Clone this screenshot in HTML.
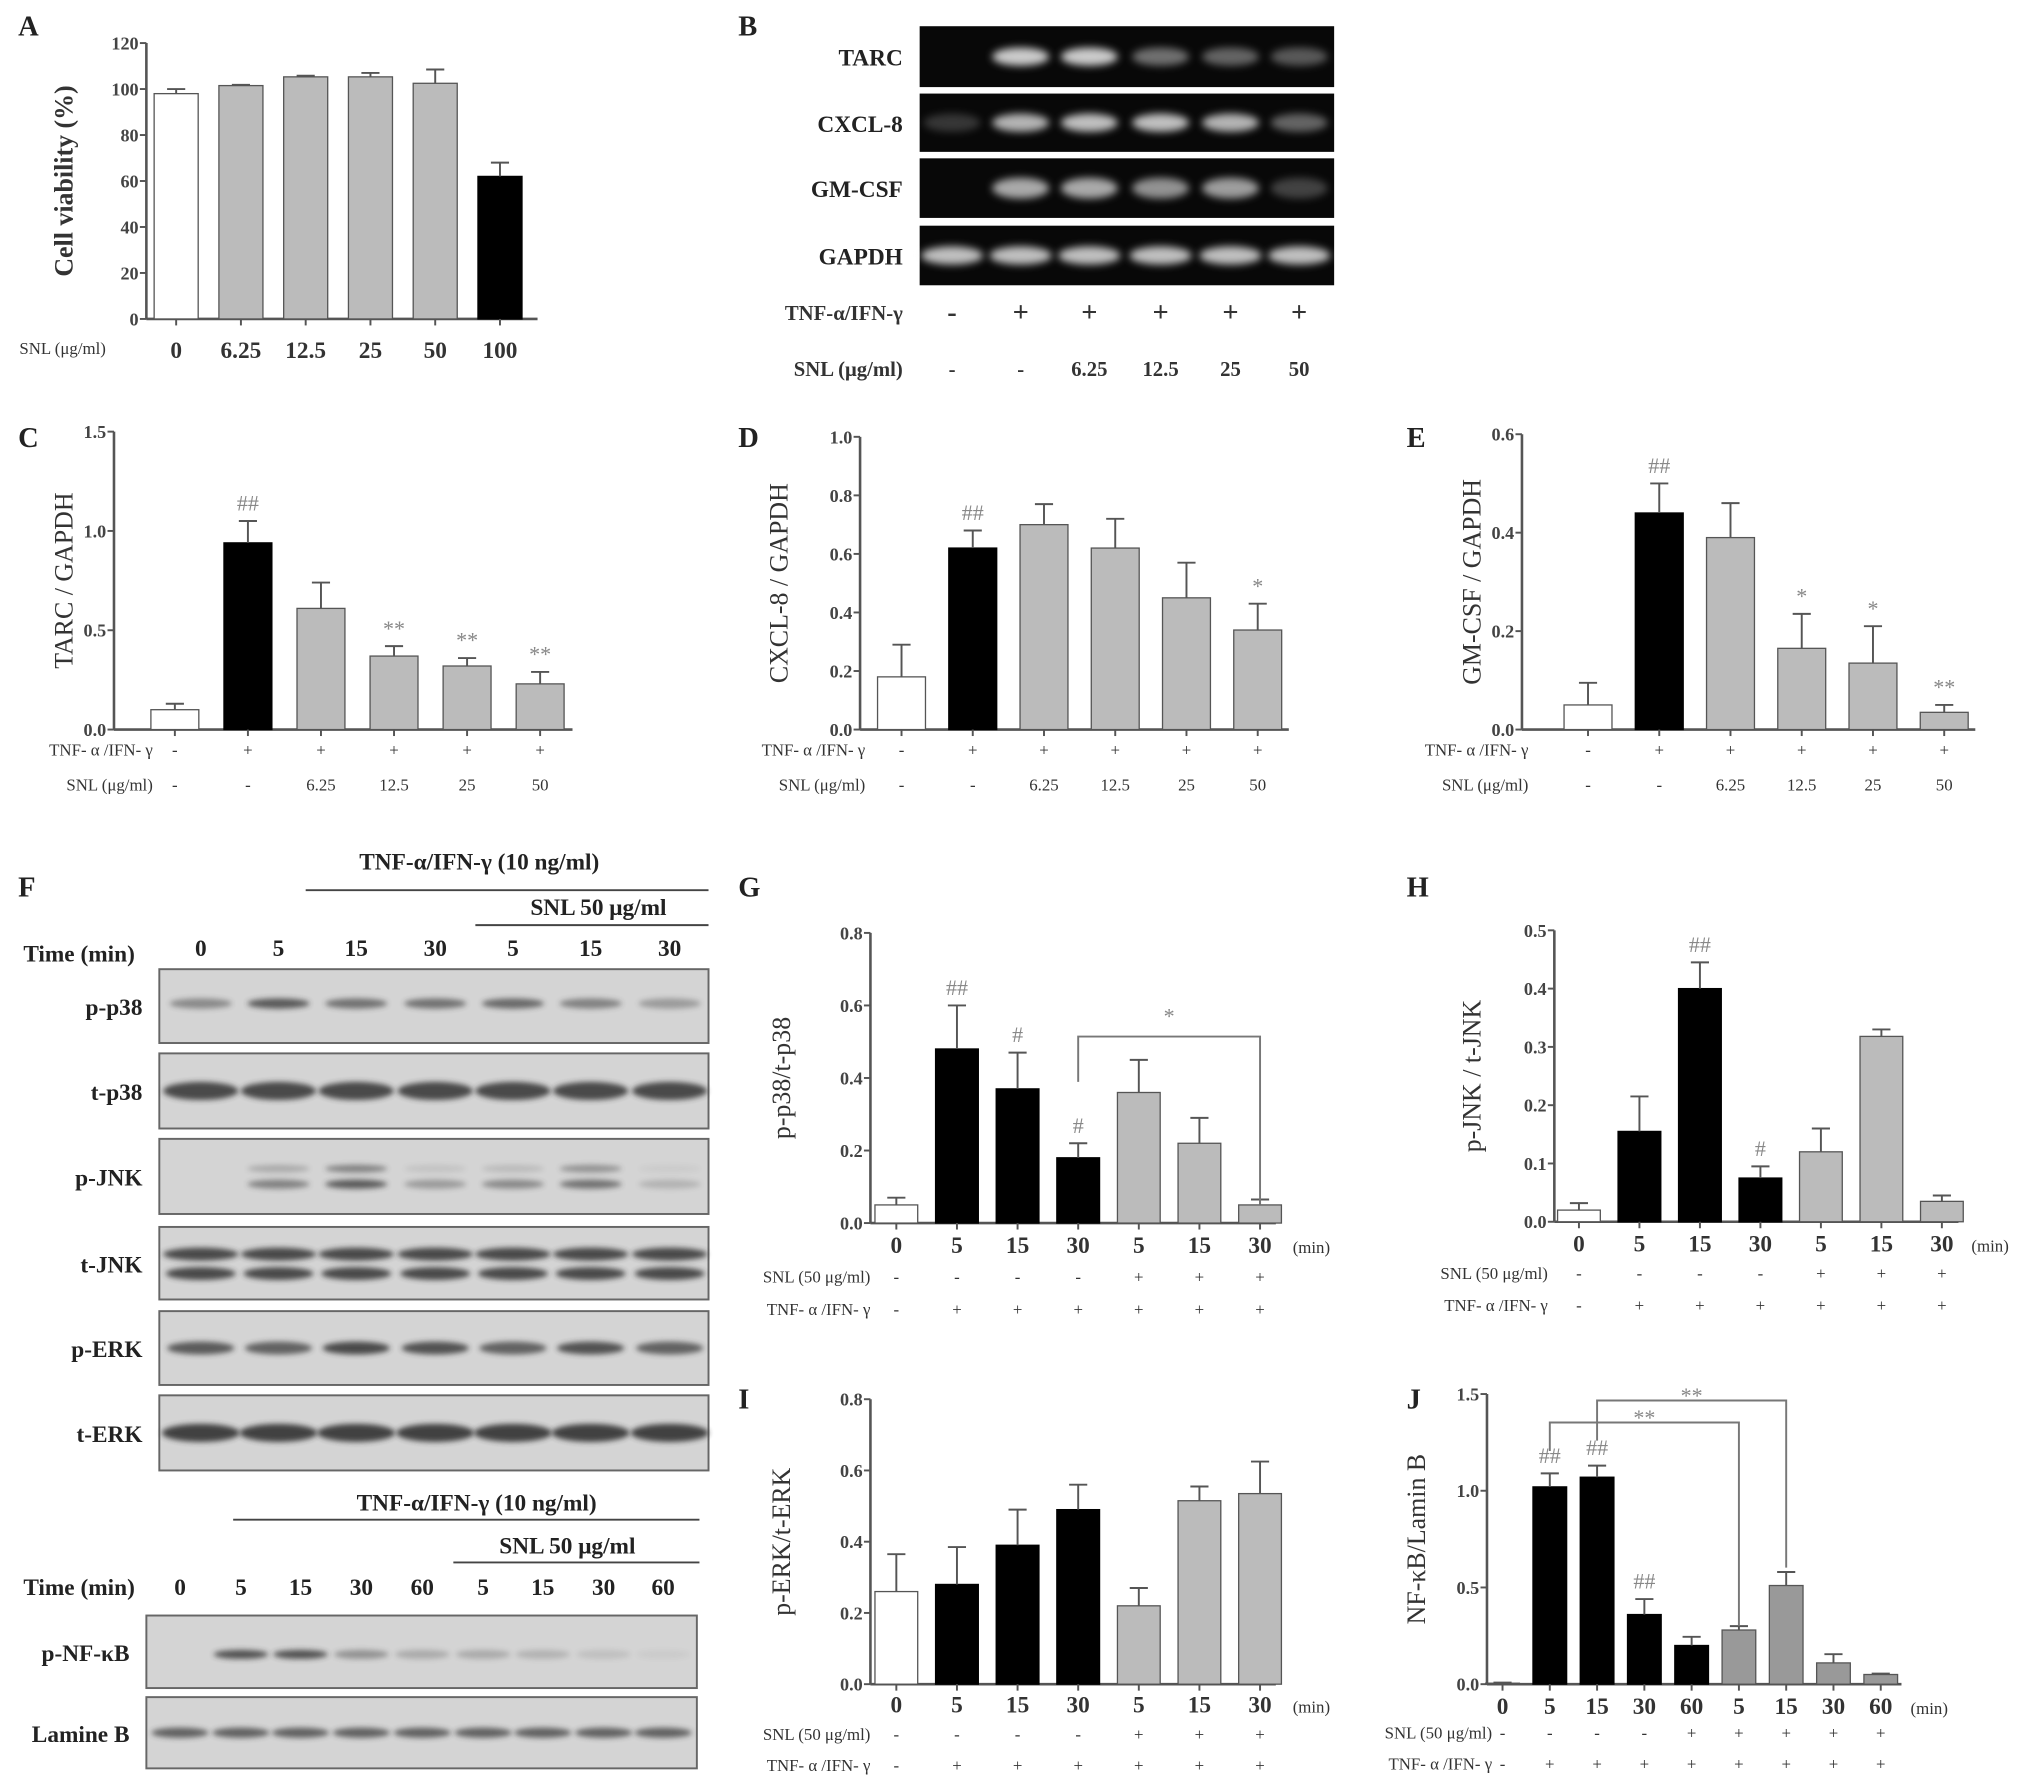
<!DOCTYPE html>
<html><head><meta charset="utf-8"><style>
html,body{margin:0;padding:0;background:#fff;}
svg{display:block;font-family:"Liberation Serif",serif;}
.lbl{font-weight:bold;font-size:22px;fill:#222;}
.tick{font-size:14px;fill:#444;font-weight:bold;}
.xt{font-size:18px;fill:#333;font-weight:bold;}
.row{font-size:13px;fill:#333;}
.ttl{font-size:20px;fill:#333;}
.bl{font-size:18px;fill:#222;font-weight:bold;}
.ann{font-size:17px;fill:#888;}
</style></head><body>
<svg id="fig" width="2031" height="1792" viewBox="0 0 1568 1383" xmlns="http://www.w3.org/2000/svg">
<defs>
<filter id="blur" x="-30%" y="-80%" width="160%" height="260%"><feGaussianBlur stdDeviation="3"/></filter>
<filter id="blur2" x="-30%" y="-80%" width="160%" height="260%"><feGaussianBlur stdDeviation="2"/></filter>
</defs>
<g id="root"></g>
</svg>
<script>
// ---- Panel A data ----
const aCats=["0","6.25","12.5","25","50","100"];
const aVals=[98,101.5,105.3,105.3,102.5,62];
const aErrs=[100,101.8,105.8,107,108.5,68];
const aTicks=[0,20,40,60,80,100,120];
// ---- Panel C data ----
const cVals=[0.10,0.94,0.61,0.37,0.32,0.23];
const cErrs=[0.13,1.05,0.74,0.42,0.36,0.29];
const cTicks=["0.0","0.5","1.0","1.5"];
const cAnn=["","##","","**","**","**"];
// ---- Panel D data ----
const dVals=[0.18,0.62,0.70,0.62,0.45,0.34];
const dErrs=[0.29,0.68,0.77,0.72,0.57,0.43];
const dTicks=["0.0","0.2","0.4","0.6","0.8","1.0"];
const dAnn=["","##","","","","*"];
// ---- Panel E data ----
const eVals=[0.05,0.44,0.39,0.165,0.135,0.035];
const eErrs=[0.095,0.50,0.46,0.235,0.21,0.05];
const eTicks=["0.0","0.2","0.4","0.6"];
const eAnn=["","##","","*","*","**"];
const doseTNF=["-","+","+","+","+","+"];
const doseSNL=["-","-","6.25","12.5","25","50"];
// ---- Panel G data ----
const timeCats7=["0","5","15","30","5","15","30"];
const gVals=[0.05,0.48,0.37,0.18,0.36,0.22,0.05];
const gErrs=[0.07,0.60,0.47,0.22,0.45,0.29,0.065];
const gTicks=["0.0","0.2","0.4","0.6","0.8"];
const gAnn=["","##","#","#","","",""];
// ---- Panel H data ----
const hVals=[0.02,0.155,0.40,0.075,0.12,0.318,0.035];
const hErrs=[0.032,0.215,0.445,0.095,0.16,0.33,0.045];
const hTicks=["0.0","0.1","0.2","0.3","0.4","0.5"];
const hAnn=["","","##","#","","",""];
// ---- Panel I data ----
const iVals=[0.26,0.28,0.39,0.49,0.22,0.515,0.535];
const iErrs=[0.365,0.385,0.49,0.56,0.27,0.555,0.625];
const iTicks=["0.0","0.2","0.4","0.6","0.8"];
const snl7=["-","-","-","-","+","+","+"];
const tnf7=["-","+","+","+","+","+","+"];
// ---- Panel J data ----
const timeCats9=["0","5","15","30","60","5","15","30","60"];
const jVals=[0.005,1.02,1.07,0.36,0.20,0.28,0.51,0.11,0.05];
const jErrs=[0.008,1.09,1.13,0.44,0.245,0.30,0.58,0.155,0.055];
const jTicks=["0.0","0.5","1.0","1.5"];
const jAnn=["","##","##","##","","","","",""];
const snl9=["-","-","-","-","+","+","+","+","+"];
const tnf9=["-","+","+","+","+","+","+","+","+"];
// ---- Blot intensities ----
const gelTARC=[0,0.85,0.85,0.45,0.4,0.35];
const gelCXCL=[0.2,0.75,0.8,0.8,0.75,0.4];
const gelGM=[0,0.7,0.7,0.6,0.65,0.25];
const gelGAPDH=[0.8,0.8,0.8,0.8,0.8,0.8];
const wbPp38=[0.45,0.75,0.6,0.6,0.65,0.5,0.35];
const wbPJNKhi=[0,0.25,0.5,0.1,0.15,0.4,0.05];
const wbPJNKlo=[0,0.5,0.75,0.35,0.45,0.6,0.2];
const wbPERK=[0.75,0.7,0.85,0.8,0.7,0.8,0.7];
const wbNFkB=[0,0.8,0.8,0.4,0.25,0.25,0.2,0.12,0.05];
const wbLamin=[0.7,0.7,0.7,0.7,0.7,0.7,0.7,0.7,0.7];

const NS="http://www.w3.org/2000/svg";
const root=document.getElementById('root');
function el(tag,attrs,parent,text){const e=document.createElementNS(NS,tag);for(const k in attrs)e.setAttribute(k,attrs[k]);if(text!==undefined)e.textContent=text;(parent||root).appendChild(e);return e;}
function txt(x,y,s,cls,anchor,parent,name){const t=el('text',{x:x,y:y,class:cls,'text-anchor':anchor||'middle'},parent,s);return t;}

function chart(o){
  const g=el('g',{});
  
  
  const ys=v=>o.y0-(v/o.max)*(o.y0-o.yTop);
  const xs=i=>o.c0+i*o.step;
  el('line',{x1:o.ax,y1:o.yTop,x2:o.ax,y2:o.y0,stroke:'#555','stroke-width':2},g);
  el('line',{x1:o.ax,y1:o.y0,x2:o.xEnd,y2:o.y0,stroke:'#555','stroke-width':2},g);
  o.ticks.forEach((t,k)=>{const v=parseFloat(t);const y=ys(v);
    el('line',{x1:o.ax-5,y1:y,x2:o.ax,y2:y,stroke:'#555','stroke-width':1.5},g);
    txt(o.ax-6,y+5,t,'tick','end',g,'y-tick-label');});
  o.vals.forEach((v,i)=>{const x=xs(i);const w=o.w;
    const col=o.colors[i];
    const r=el('rect',{x:x-w/2,y:ys(v),width:w,height:o.y0-ys(v),fill:col,stroke:col=='#000'?'#000':'#555','stroke-width':1},g);
    
    
    const ye=ys(o.errs[i]);
    el('line',{x1:x,y1:ys(v),x2:x,y2:ye,stroke:'#555','stroke-width':1.5},g);
    el('line',{x1:x-7,y1:ye,x2:x+7,y2:ye,stroke:'#555','stroke-width':1.5},g);
    el('line',{x1:x,y1:o.y0,x2:x,y2:o.y0+5,stroke:'#555','stroke-width':1.5},g);
    if(o.ann&&o.ann[i])txt(x,ye-8,o.ann[i],'ann','middle',g,'significance-mark');
  });
  if(o.cats)o.cats.forEach((c,i)=>txt(xs(i),o.catY,c,o.catCls||'xt','middle',g,'x-tick-label'));
  if(o.rows)o.rows.forEach(rw=>{txt(o.rowLabelX,rw.y,rw.label,'row','end',g,'row-label');
    rw.vals.forEach((c,i)=>txt(xs(i),rw.y,c,'row','middle',g,'row-value'));});
  if(o.title){const t=txt(0,0,o.title,'ttl','middle',g,'y-axis-title');t.setAttribute('transform','translate('+o.titleX+','+((o.yTop+o.y0)/2)+') rotate(-90)');if(o.titleBold)t.setAttribute('font-weight','bold');}
  if(o.min)txt(o.minX,o.catY,'(min)','row','start',g,'unit-label');
  return {g,xs,ys};
}

[["A",14,27],["B",570,27],["C",14,345],["D",570,345],["E",1086,345],["F",14,692],["G",570,692],["H",1086,692],["I",570,1087],["J",1086,1087]].forEach(p=>txt(p[1],p[2],p[0],'lbl','start',null,'panel-label-'+p[0].toLowerCase()));

const W='#fff',K='#000',Gy='#bbb',Gd='#999';
chart({name:'chart-a',ax:113,y0:246,yTop:33,max:120,ticks:aTicks.map(String),vals:aVals,errs:aErrs,c0:136,step:50,w:34,xEnd:415,
  colors:[W,Gy,Gy,Gy,Gy,K],cats:aCats,catY:276,title:'Cell viability (%)',titleX:56,titleBold:true});
txt(15,273,'SNL (μg/ml)','row','start',null,'x-axis-title');
const doseRows=(y1,y2)=>[{y:y1,label:'TNF- α /IFN- γ',vals:doseTNF},{y:y2,label:'SNL (μg/ml)',vals:doseSNL}];
chart({name:'chart-c',ax:88,y0:563,yTop:333,max:1.5,ticks:cTicks,vals:cVals,errs:cErrs,c0:135,step:56.4,w:37,xEnd:442,
  colors:[W,K,Gy,Gy,Gy,Gy],ann:cAnn,rows:doseRows(583,610),rowLabelX:118,title:'TARC / GAPDH',titleX:56});
chart({name:'chart-d',ax:664,y0:563,yTop:337,max:1.0,ticks:dTicks,vals:dVals,errs:dErrs,c0:696,step:55,w:37,xEnd:995,
  colors:[W,K,Gy,Gy,Gy,Gy],ann:dAnn,rows:doseRows(583,610),rowLabelX:668,title:'CXCL-8 / GAPDH',titleX:608});
chart({name:'chart-e',ax:1175,y0:563,yTop:335,max:0.6,ticks:eTicks,vals:eVals,errs:eErrs,c0:1226,step:55,w:37,xEnd:1525,
  colors:[W,K,Gy,Gy,Gy,Gy],ann:eAnn,rows:doseRows(583,610),rowLabelX:1180,title:'GM-CSF / GAPDH',titleX:1143});
const tRows=(y1,y2,a,b)=>[{y:y1,label:'SNL (50 μg/ml)',vals:a},{y:y2,label:'TNF- α /IFN- γ',vals:b}];
const G=chart({name:'chart-g',ax:672,y0:944,yTop:720,max:0.8,ticks:gTicks,vals:gVals,errs:gErrs,c0:692,step:46.8,w:33,xEnd:985,
  colors:[W,K,K,K,Gy,Gy,Gy],ann:gAnn,cats:timeCats7,catY:967,min:true,minX:998,rows:tRows(990,1015,snl7,tnf7),rowLabelX:672,title:'p-p38/t-p38',titleX:610});
(function(){const x1=G.xs(3),x2=G.xs(6);const b=el('path',{d:`M${x1},835 V800 H${x2} V930`,fill:'none',stroke:'#777','stroke-width':1.5},G.g);txt((x1+x2)/2,790,'*','ann','middle',G.g,'significance-mark');})();
chart({name:'chart-h',ax:1200,y0:943,yTop:718,max:0.5,ticks:hTicks,vals:hVals,errs:hErrs,c0:1219,step:46.7,w:33,xEnd:1512,
  colors:[W,K,K,K,Gy,Gy,Gy],ann:hAnn,cats:timeCats7,catY:966,min:true,minX:1522,rows:tRows(987,1012,snl7,tnf7),rowLabelX:1195,title:'p-JNK / t-JNK',titleX:1143});
chart({name:'chart-i',ax:672,y0:1300,yTop:1080,max:0.8,ticks:iTicks,vals:iVals,errs:iErrs,c0:692,step:46.8,w:33,xEnd:985,
  colors:[W,K,K,K,Gy,Gy,Gy],cats:timeCats7,catY:1322,min:true,minX:998,rows:tRows(1343,1367,snl7,tnf7),rowLabelX:672,title:'p-ERK/t-ERK',titleX:610});
const J=chart({name:'chart-j',ax:1148,y0:1300,yTop:1076,max:1.5,ticks:jTicks,vals:jVals,errs:jErrs,c0:1160,step:36.5,w:26,xEnd:1468,
  colors:[W,K,K,K,K,Gd,Gd,Gd,Gd],ann:jAnn,cats:timeCats9,catY:1323,min:true,minX:1475,rows:tRows(1342,1366,snl9,tnf9),rowLabelX:1152,title:'NF-κB/Lamin B',titleX:1100});
(function(){const b1=el('path',{d:`M${J.xs(2)},1112 V1081 H${J.xs(6)} V1210`,fill:'none',stroke:'#777','stroke-width':1.5},J.g);
const b2=el('path',{d:`M${J.xs(1)},1120 V1098 H${J.xs(5)} V1255`,fill:'none',stroke:'#777','stroke-width':1.5},J.g);
txt((J.xs(2)+J.xs(6))/2,1083,'**','ann','middle',J.g,'significance-mark');txt((J.xs(1)+J.xs(5))/2,1100,'**','ann','middle',J.g,'significance-mark');})();

const gelLanes=[735,788,841,896,950,1003];
function gel(name,label,y1,y2,vals,bw,bh){const g=el('g',{});
  el('rect',{x:710,y:y1,width:320,height:y2-y1,fill:'#080808'},g);
  vals.forEach((v,i)=>{if(v>0)el('ellipse',{cx:gelLanes[i],cy:(y1+y2)/2,rx:bw,ry:bh,fill:'#eee',opacity:v,filter:'url(#blur)'},g);});
  txt(697,(y1+y2)/2+7,label,'bl','end',g,'gel-label');}
gel('gel-tarc','TARC',20,67,gelTARC,22,7);
gel('gel-cxcl8','CXCL-8',72,117,gelCXCL,22,7);
gel('gel-gmcsf','GM-CSF',122,168,gelGM,22,8);
gel('gel-gapdh','GAPDH',174,220,gelGAPDH,24,7);
txt(697,247,'TNF-α/IFN-γ','row','end',null,'row-label').setAttribute('style','font-size:16px;font-weight:bold');
txt(697,290,'SNL (μg/ml)','row','end',null,'row-label').setAttribute('style','font-size:16px;font-weight:bold');
doseTNF.forEach((c,i)=>txt(gelLanes[i],248,c,'xt','middle',null,'row-value').setAttribute('style','font-size:22px'));
doseSNL.forEach((c,i)=>txt(gelLanes[i],290,c,'row','middle',null,'row-value').setAttribute('style','font-size:16px;font-weight:bold'));

const fLanes=[155,215,275,336,396,456,517];
function blot(name,label,x1,x2,y1,y2,lanes,vals,bw,bh,dy,labelX){const g=el('g',{});
  el('rect',{x:x1,y:y1,width:x2-x1,height:y2-y1,fill:'#d4d4d4',stroke:'#666','stroke-width':1.5},g);
  vals.forEach((v,i)=>{if(v>0)el('ellipse',{cx:lanes[i],cy:(y1+y2)/2+(dy||0),rx:bw,ry:bh,fill:'#333',opacity:v,filter:'url(#blur2)'},g);});
  txt(labelX,(y1+y2)/2+7,label,'bl','end',g,'blot-label');return g;}
blot('blot-p-p38','p-p38',123,547,748,805,fLanes,wbPp38,24,4,-2,110);
blot('blot-t-p38','t-p38',123,547,813,871,fLanes,[.85,.85,.85,.85,.85,.85,.85],29,7,0,110);
const pj=blot('blot-p-jnk','p-JNK',123,547,879,937,fLanes,wbPJNKhi,24,3,-6,110);
wbPJNKlo.forEach((v,i)=>{if(v>0)el('ellipse',{cx:fLanes[i],cy:914,rx:24,ry:3.5,fill:'#333',opacity:v,filter:'url(#blur2)'},pj);});
const tj=blot('blot-t-jnk','t-JNK',123,547,947,1003,fLanes,[.85,.85,.85,.85,.85,.85,.85],29,5,-7,110);
[.85,.85,.85,.85,.85,.85,.85].forEach((v,i)=>el('ellipse',{cx:fLanes[i],cy:983,rx:27,ry:5,fill:'#333',opacity:v,filter:'url(#blur2)'},tj));
blot('blot-p-erk','p-ERK',123,547,1012,1069,fLanes,wbPERK,26,5,0,110);
blot('blot-t-erk','t-ERK',123,547,1077,1135,fLanes,[.9,.9,.9,.9,.9,.9,.9],30,7,0,110);
txt(370,671,'TNF-α/IFN-γ  (10 ng/ml)','bl','middle',null,'treatment-header');
el('line',{x1:236,y1:687,x2:547,y2:687,stroke:'#444','stroke-width':1.5});
txt(462,706,'SNL 50 μg/ml','bl','middle',null,'treatment-header');
el('line',{x1:367,y1:714,x2:547,y2:714,stroke:'#444','stroke-width':1.5});
txt(18,742,'Time (min)','bl','start',null,'time-label');
timeCats7.forEach((c,i)=>txt(fLanes[i],738,c,'bl','middle',null,'time-value'));

const nLanes=[139,186,232,279,326,373,419,466,512];
txt(368,1166,'TNF-α/IFN-γ (10 ng/ml)','bl','middle',null,'treatment-header');
el('line',{x1:180,y1:1173,x2:540,y2:1173,stroke:'#444','stroke-width':1.5});
txt(438,1199,'SNL 50 μg/ml','bl','middle',null,'treatment-header');
el('line',{x1:350,y1:1206,x2:540,y2:1206,stroke:'#444','stroke-width':1.5});
txt(18,1231,'Time (min)','bl','start',null,'time-label');
timeCats9.forEach((c,i)=>txt(nLanes[i],1231,c,'bl','middle',null,'time-value'));
blot('blot-p-nfkb','p-NF-κB',113,538,1247,1303,nLanes,wbNFkB,21,3.5,2,100);
blot('blot-lamin-b','Lamine B',113,538,1310,1365,nLanes,wbLamin,22,4,0,100);
</script>
</body></html>
